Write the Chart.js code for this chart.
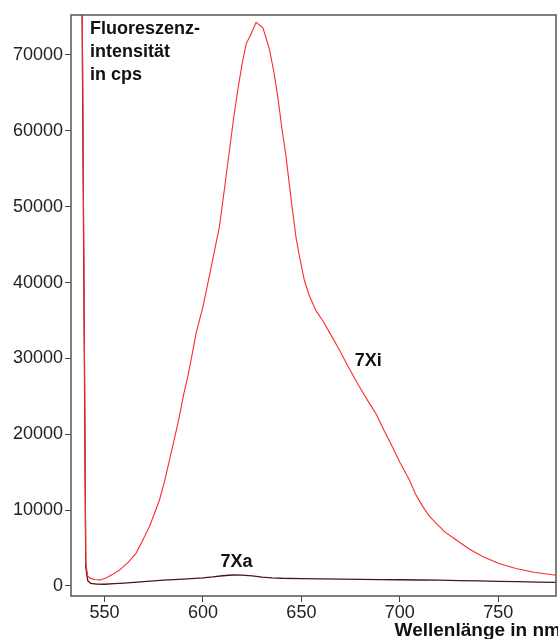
<!DOCTYPE html>
<html>
<head>
<meta charset="utf-8">
<script src="https://cdn.jsdelivr.net/npm/chart.js@4.4.1/dist/chart.umd.min.js"></script>
<style>
  html, body { margin: 0; padding: 0; background: #fff; }
  #spectrum { display: block; }
</style>
</head>
<body>
<canvas id="spectrum" width="558" height="639"></canvas>
<script>
// Wellenlänge (nm) und Intensität (cps)
var xiNm  = [538.5, 540.5, 541.5, 543, 545, 548, 551, 554, 557.6, 562, 566, 569, 572.8, 575, 577.9, 580.5, 583, 585.5, 588, 590, 592.3, 594.5, 596.5, 600, 604, 608.4, 611, 613.5, 615.5, 617.7, 620, 622, 624.5, 627, 628, 630.4, 632, 633.8, 636, 638, 640, 642.2, 645, 647.3, 649, 651.5, 654, 657.4, 660.8, 665, 669.3, 674, 679.4, 684, 687.9, 692, 696.3, 700, 704.8, 708, 711.6, 715, 718.3, 723, 728.5, 735, 742, 750, 758.9, 768, 778.4, 780];
var xiCps = [85000, 3000, 1300, 1000, 850, 800, 1100, 1500, 2100, 3100, 4300, 5800, 7800, 9300, 11300, 13800, 16600, 19400, 22300, 25000, 27600, 30500, 33300, 36800, 41800, 47400, 52500, 57500, 61500, 65400, 69000, 71500, 72800, 74300, 74100, 73600, 72300, 70700, 67800, 64500, 60500, 56600, 50500, 45900, 43500, 40300, 38300, 36300, 35000, 33100, 31100, 28800, 26300, 24300, 22700, 20500, 18300, 16300, 14000, 12100, 10500, 9200, 8300, 7100, 6100, 4900, 3900, 3000, 2300, 1800, 1450, 1400];

var xaNm  = [538.4, 540.5, 541.5, 543, 546, 550, 555, 560, 570, 580, 590, 600, 605, 610, 615, 620, 625, 630, 635, 640, 650, 660, 670, 680, 690, 700, 710, 720, 730, 740, 750, 760, 770, 780];
var xaCps = [85000, 2500, 700, 350, 250, 230, 300, 380, 580, 760, 900, 1080, 1200, 1350, 1450, 1430, 1330, 1180, 1080, 1020, 980, 930, 900, 880, 850, 820, 790, 760, 720, 670, 620, 570, 520, 480];

var yTicks = [0, 10000, 20000, 30000, 40000, 50000, 60000, 70000];
var xTicks = [550, 600, 650, 700, 750];

var curveLabels = ['7Xi', '7Xa'];
var curveLabelNm = [684, 617];
var curveLabelCps = [29660, 3160];

function pairs(xs, ys) {
    return xs.map(function (x, i) { return { x: x, y: ys[i] }; });
}

var textPlugin = {
    id: 'texte',
    afterDraw: function (chart) {
        var ctx = chart.ctx;
        var a = chart.chartArea;
        var xs = chart.scales.x, ys = chart.scales.y;
        ctx.save();
        // Rahmen
        ctx.strokeStyle = '#555';
        ctx.lineWidth = 1.5;
        ctx.strokeRect(a.left, a.top, a.right - a.left, a.bottom - a.top);

        ctx.fillStyle = '#111';
        ctx.font = 'bold 18px "Liberation Sans", Arial, sans-serif';
        ctx.textAlign = 'left';
        ctx.textBaseline = 'alphabetic';
        ['Fluoreszenz-', 'intensität', 'in cps'].forEach(function (t, i) {
            ctx.fillText(t, a.left + 19, a.top + 19 + i * 23);
        });

        ctx.textAlign = 'center';
        ctx.textBaseline = 'middle';
        curveLabels.forEach(function (t, i) {
            ctx.fillText(t, xs.getPixelForValue(curveLabelNm[i]), ys.getPixelForValue(curveLabelCps[i]));
        });

        ctx.font = 'bold 19px "Liberation Sans", Arial, sans-serif';
        ctx.textAlign = 'right';
        ctx.textBaseline = 'alphabetic';
        ctx.fillText('Wellenlänge in nm', chart.width + 3, chart.height - 3);
        ctx.restore();
    }
};

var tickFont = { family: '"Liberation Sans", Arial, sans-serif', size: 18 };

new Chart(document.getElementById('spectrum').getContext('2d'), {
    type: 'line',
    data: {
        datasets: [{
            label: '7Xi',
            data: pairs(xiNm, xiCps),
            borderColor: '#ff2a2a',
            borderWidth: 1.1,
            pointRadius: 0,
            tension: 0
        }, {
            label: '7Xa',
            data: pairs(xaNm, xaCps),
            borderColor: '#4a1616',
            borderWidth: 1.3,
            pointRadius: 0,
            tension: 0
        }]
    },
    options: {
        responsive: false,
        animation: false,
        layout: { padding: { top: 15, right: 2, left: 0, bottom: 0 } },
        plugins: { legend: { display: false }, tooltip: { enabled: false } },
        scales: {
            x: {
                type: 'linear',
                min: 533,
                max: 779.3,
                afterBuildTicks: function (s) { s.ticks = xTicks.map(function (v) { return { value: v }; }); },
                afterFit: function (s) { s.height = 43; },
                border: { display: false },
                grid: { drawOnChartArea: false, tickLength: 6, color: '#444', lineWidth: 1 },
                ticks: { font: tickFont, color: '#222', padding: 0, maxRotation: 0,
                         callback: function (v) { return String(v); } }
            },
            y: {
                type: 'linear',
                min: -1320,
                max: 75270,
                afterBuildTicks: function (s) { s.ticks = yTicks.map(function (v) { return { value: v }; }); },
                afterFit: function (s) { s.width = 71; },
                border: { display: false },
                grid: { drawOnChartArea: false, tickLength: 6, color: '#444', lineWidth: 1 },
                ticks: { font: tickFont, color: '#222', padding: 2,
                          callback: function (v) { return String(v); } }
            }
        }
    },
    plugins: [textPlugin]
});
</script>
</body>
</html>
